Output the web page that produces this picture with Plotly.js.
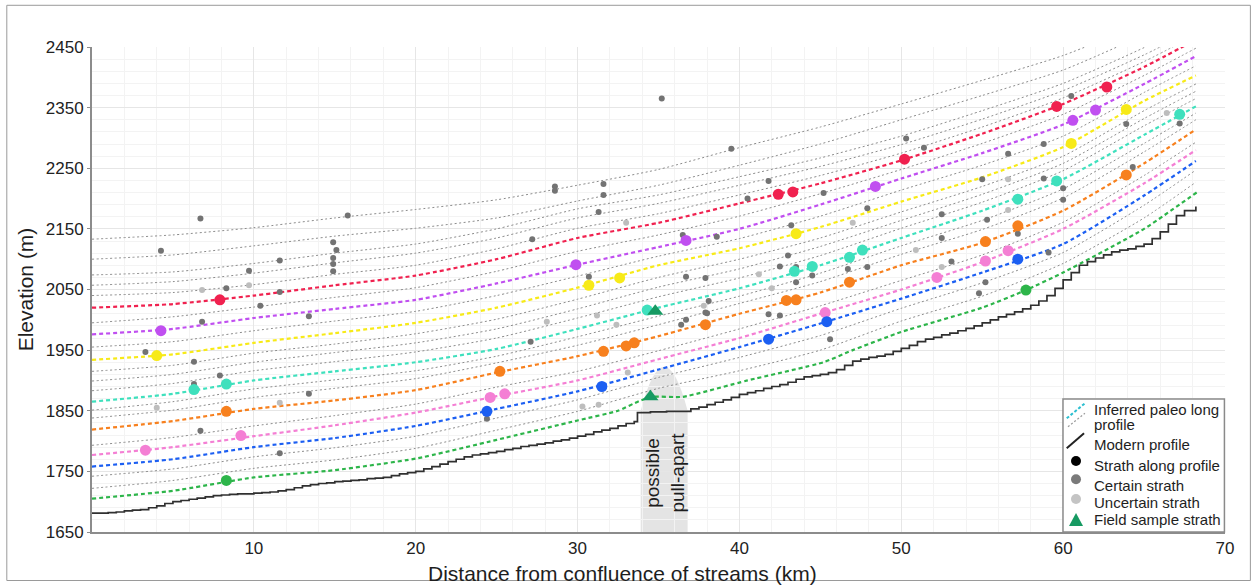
<!DOCTYPE html>
<html>
<head>
<meta charset="utf-8">
<script src="https://cdn.plot.ly/plotly-3.0.1.min.js"></script>
<style>
  html, body { margin: 0; padding: 0; background: #ffffff; }
  #chart { width: 1253px; height: 587px; }
</style>
</head>
<body>
<div id="chart"></div>
<script>
// ---------- DATA ----------
const profileX = [0, 5, 10, 15, 20, 25, 30, 35, 40, 45, 50, 55, 60, 65, 68.2];

// coloured inferred paleo long profiles (dashed)
const redProfile    = [2020, 2026, 2040, 2057, 2073, 2100, 2135, 2160, 2192, 2225, 2263, 2307, 2356, 2417, 2462];
const purpleProfile = [1976, 1985, 2003, 2018, 2033, 2060, 2091, 2120, 2150, 2190, 2233, 2275, 2322, 2389, 2435];
const yellowProfile = [1934, 1943, 1962, 1978, 1995, 2020, 2053, 2090, 2118, 2153, 2195, 2235, 2285, 2361, 2403];
const turqProfile   = [1865, 1878, 1900, 1915, 1930, 1952, 1985, 2020, 2052, 2090, 2135, 2180, 2232, 2305, 2352];
const orangeProfile = [1819, 1833, 1853, 1867, 1884, 1913, 1940, 1973, 2010, 2045, 2090, 2127, 2180, 2258, 2314];
const pinkProfile   = [1777, 1790, 1808, 1826, 1847, 1874, 1900, 1935, 1970, 2010, 2050, 2095, 2150, 2225, 2280];
const blueProfile   = [1758, 1770, 1790, 1805, 1825, 1853, 1882, 1918, 1955, 1994, 2035, 2078, 2125, 2205, 2262];
const greenProfileX = [0, 5, 10, 15, 20, 25, 30, 32.5, 33.8, 34.6, 36.5, 40.5, 45.2, 47, 50, 55, 57.7, 60, 65, 68.3];
const greenProfile  = [1705, 1718, 1740, 1752, 1771, 1802, 1834, 1850, 1866, 1873, 1873, 1900, 1930, 1950, 1980, 2020, 2049, 2078, 2150, 2211];

// grey dotted inferred paleo long profiles
const grey1  = [2133, 2140, 2152, 2168, 2182, 2198, 2222, 2248, 2284, 2318, 2356, 2395, 2436, 2490, 2530];
const grey2  = [2100, 2107, 2122, 2138, 2151, 2168, 2196, 2222, 2255, 2290, 2330, 2370, 2412, 2470, 2510];
const grey3  = [2074, 2079, 2093, 2110, 2125, 2150, 2183, 2206, 2236, 2267, 2303, 2345, 2390, 2449, 2492];
const grey4  = [2057, 2063, 2077, 2094, 2110, 2135, 2168, 2192, 2222, 2253, 2289, 2331, 2378, 2437, 2480];
const grey5  = [2040, 2045, 2058, 2075, 2090, 2117, 2151, 2175, 2206, 2238, 2275, 2318, 2366, 2426, 2470];
const grey6  = [1995, 2005, 2021, 2037, 2053, 2080, 2113, 2140, 2171, 2208, 2248, 2291, 2339, 2403, 2448];
const grey7  = [1955, 1964, 1982, 1998, 2014, 2040, 2072, 2105, 2134, 2171, 2214, 2255, 2303, 2375, 2419];
const grey8  = [1915, 1925, 1945, 1960, 1977, 2001, 2034, 2070, 2100, 2135, 2178, 2220, 2270, 2345, 2389];
const grey9  = [1899, 1910, 1930, 1946, 1962, 1985, 2018, 2054, 2084, 2121, 2164, 2207, 2258, 2332, 2377];
const grey10 = [1883, 1895, 1916, 1931, 1947, 1970, 2003, 2038, 2069, 2106, 2151, 2194, 2246, 2320, 2365];
const grey11 = [1851, 1865, 1886, 1901, 1916, 1940, 1972, 2006, 2039, 2077, 2122, 2164, 2216, 2291, 2341];
const grey12 = [1838, 1851, 1872, 1887, 1903, 1929, 1958, 1992, 2027, 2063, 2108, 2149, 2201, 2277, 2330];
const grey13 = [1793, 1806, 1825, 1842, 1861, 1889, 1915, 1949, 1985, 2023, 2065, 2107, 2161, 2238, 2293];
const grey14 = [1742, 1754, 1774, 1789, 1808, 1838, 1868, 1905, 1938, 1974, 2019, 2061, 2111, 2189, 2247];
const grey15 = [1722, 1735, 1755, 1769, 1788, 1818, 1849, 1887, 1916, 1950, 1998, 2039, 2093, 2168, 2227];

// modern profile (stepped)
const modernX = [0, 0.5, 1, 1.5, 2, 2.5, 3, 3.5, 4, 4.5, 5, 5.5, 6, 6.5, 7, 7.5, 8, 8.5, 9, 9.5,
  10, 10.5, 11, 11.5, 12, 12.5, 13, 13.5, 14, 14.5, 15, 15.5, 16, 16.5, 17, 17.5, 18, 18.5, 19, 19.5,
  20, 20.5, 21, 21.5, 22, 22.5, 23, 23.5, 24, 24.5, 25, 25.5, 26, 26.5, 27, 27.5, 28, 28.5, 29, 29.5,
  30, 30.5, 31, 31.5, 32, 32.5, 33, 33.5, 33.7, 34.5, 35.5, 36.8, 37, 37.5, 38, 38.5, 39, 39.5,
  40, 40.5, 41, 41.5, 42, 42.5, 43, 43.5, 44, 44.5, 45, 45.5, 46, 46.5, 47, 47.5, 48, 48.5, 49, 49.5,
  50, 50.5, 51, 51.5, 52, 52.5, 53, 53.5, 54, 54.5, 55, 55.5, 56, 56.5, 57, 57.5, 58, 58.5, 59, 59.5,
  60, 60.5, 61, 61.5, 62, 62.5, 63, 63.5, 64, 64.5, 65, 65.5, 66, 66.5, 67, 67.5, 68.2];
const modernY = [1681, 1681, 1682, 1683, 1685, 1686, 1687, 1690, 1693, 1697, 1700, 1702, 1704, 1706, 1708, 1710, 1711, 1712, 1713, 1713,
  1714, 1715, 1716, 1718, 1720, 1723, 1726, 1728, 1730, 1731, 1733, 1734, 1735, 1736, 1738, 1739, 1740, 1743, 1746, 1748,
  1750, 1754, 1758, 1762, 1766, 1770, 1774, 1777, 1779, 1781, 1783, 1786, 1788, 1791, 1793, 1795, 1797, 1800, 1802, 1805,
  1808, 1811, 1815, 1818, 1821, 1825, 1829, 1832, 1847, 1848, 1849, 1849, 1853, 1856, 1860, 1864, 1868, 1872,
  1877, 1880, 1883, 1887, 1890, 1893, 1897, 1902, 1906, 1908, 1910, 1913, 1918, 1925, 1932, 1935, 1938, 1940, 1943, 1948,
  1953, 1958, 1964, 1968, 1971, 1975, 1978, 1982, 1986, 1990, 1995, 2000, 2005, 2009, 2013, 2018, 2024, 2031, 2040, 2052,
  2066, 2078, 2090, 2096, 2102, 2107, 2112, 2115, 2117, 2121, 2125, 2134, 2145, 2158, 2172, 2180, 2187];

// straths along profiles (coloured points)
const redStrathX    = [7.9, 42.4, 43.3, 50.2, 59.6, 62.7];
const redStrathY    = [2033, 2207, 2211, 2265, 2352, 2384];
const purpleStrathX = [4.26, 29.9, 36.7, 48.4, 60.6, 62.0];
const purpleStrathY = [1982, 2091, 2131, 2220, 2329, 2346];
const yellowStrathX = [4.0, 30.7, 32.6, 43.5, 60.5, 63.9];
const yellowStrathY = [1941, 2057, 2069, 2142, 2291, 2347];
const turqStrathX   = [6.3, 8.3, 34.3, 43.4, 44.5, 46.8, 47.6, 57.2, 59.6, 67.2];
const turqStrathY   = [1885, 1894, 2016, 2080, 2088, 2103, 2115, 2199, 2229, 2339];
const orangeStrathX = [8.3, 25.2, 31.6, 33.0, 33.5, 37.9, 42.9, 43.5, 46.8, 55.2, 57.2, 63.9];
const orangeStrathY = [1849, 1915, 1948, 1957, 1962, 1992, 2032, 2033, 2062, 2129, 2155, 2239];
const pinkStrathX   = [3.3, 9.2, 24.6, 25.5, 45.3, 52.2, 55.2, 56.6];
const pinkStrathY   = [1785, 1809, 1872, 1878, 2012, 2070, 2097, 2114];
const blueStrathX   = [24.4, 31.5, 41.8, 45.4, 57.2];
const blueStrathY   = [1849, 1890, 1968, 1997, 2100];
const greenStrathX  = [8.3, 57.7];
const greenStrathY  = [1735, 2049];

// certain straths (dark grey)
const certainX = [4.26, 6.7, 8.3, 9.7, 11.6, 11.6, 10.4, 15.8, 14.9, 15.1, 14.9, 14.9, 14.9, 13.4, 6.8, 3.3, 6.3, 7.9, 6.3, 13.4, 6.7, 11.6,
  28.6, 28.6, 31.6, 31.6, 31.3, 27.2, 30.7, 36.5, 36.7, 35.2, 27.1, 24.4, 37.9, 36.4, 36.7, 38.1, 39.5, 41.8, 40.5, 45.2, 50.3, 51.4,
  56.6, 58.8, 47.9, 43.2, 38.6, 55.0, 58.8, 52.5, 55.3, 52.5, 43.0, 42.5, 43.5, 44.5, 43.5, 37.9, 53.1, 55.2, 57.2, 59.1, 47.9, 46.7,
  54.8, 38.0, 41.8, 42.5, 45.6, 60.5, 63.9, 67.2, 60.0, 60.0, 64.3];
const certainY = [2114, 2167, 2052, 2081, 2098, 2046, 2023, 2172, 2128, 2115, 2102, 2092, 2080, 2006, 1997, 1947, 1931, 1908, 1894, 1878, 1817, 1780,
  2220, 2213, 2224, 2206, 2178, 2133, 2071, 2140, 2071, 2365, 1964, 1837, 2012, 1992, 2000, 2031, 2282, 2229, 2200, 2209, 2299, 2284,
  2274, 2290, 2184, 2156, 2137, 2232, 2233, 2174, 2165, 2135, 2106, 2088, 2087, 2073, 2062, 2069, 2096, 2062, 2142, 2111, 2087, 2084,
  2044, 2011, 2009, 2007, 1968, 2369, 2323, 2324, 2217, 2198, 2252];

// uncertain straths (light grey)
const uncertainX = [6.8, 9.7, 4.0, 11.6, 28.1, 31.2, 32.4, 33.1, 30.3, 31.3, 33.0, 47.0, 56.6, 56.6, 50.9, 41.2, 52.5, 42.0, 37.8, 66.4];
const uncertainY = [2049, 2057, 1855, 1863, 1997, 2007, 1992, 1913, 1857, 1860, 2160, 2160, 2232, 2181, 2115, 2075, 2087, 2052, 2023, 2341];

// field sample straths
const fieldX = [34.8, 34.5];
const fieldY = [2014, 1873];

// axis ticks
const xTicks = [10, 20, 30, 40, 50, 60, 70];
const yTicks = [1650, 1750, 1850, 1950, 2050, 2150, 2250, 2350, 2450];

// pull-apart zone
const pullApartX = [33.9, 36.8];

// ---------- STYLE ----------
const COL = {
  red: '#f0214f', purple: '#c04ff0', yellow: '#f7ea18', turq: '#3fe0bd',
  orange: '#f7801e', pink: '#f47fd4', blue: '#1c5ff2', green: '#2db54a',
  field: '#169a62', certain: '#737373', uncertain: '#bdbdbd', grey: '#8c8c8c', modern: '#303030'
};
const FONT = 'Liberation Sans, Arial, sans-serif';

const traces = [];
const greys = [grey1, grey2, grey3, grey4, grey5, grey6, grey7, grey8, grey9, grey10, grey11, grey12, grey13, grey14, grey15];
greys.forEach(g => traces.push({
  x: profileX, y: g, mode: 'lines', type: 'scatter', hoverinfo: 'skip',
  line: { color: COL.grey, width: 1, dash: '2px,2.5px', shape: 'spline', smoothing: 0.6 }
}));

const coloured = [
  [redProfile, COL.red], [purpleProfile, COL.purple], [yellowProfile, COL.yellow], [turqProfile, COL.turq],
  [orangeProfile, COL.orange], [pinkProfile, COL.pink], [blueProfile, COL.blue]
];
coloured.forEach(([y, c]) => traces.push({
  x: profileX, y: y, mode: 'lines', type: 'scatter', hoverinfo: 'skip',
  line: { color: c, width: 2.2, dash: '4px,3px', shape: 'spline', smoothing: 0.6 }
}));
traces.push({
  x: greenProfileX, y: greenProfile, mode: 'lines', type: 'scatter', hoverinfo: 'skip',
  line: { color: COL.green, width: 2.2, dash: '4px,3px', shape: 'spline', smoothing: 0.5 }
});

traces.push({
  x: modernX, y: modernY, mode: 'lines', type: 'scatter', hoverinfo: 'skip',
  line: { color: COL.modern, width: 1.7, shape: 'hv' }
});

traces.push({ x: uncertainX, y: uncertainY, mode: 'markers', type: 'scatter', marker: { color: COL.uncertain, size: 6 } });
traces.push({ x: certainX, y: certainY, mode: 'markers', type: 'scatter', marker: { color: COL.certain, size: 6 } });

const strathSets = [
  [redStrathX, redStrathY, COL.red], [purpleStrathX, purpleStrathY, COL.purple], [yellowStrathX, yellowStrathY, COL.yellow],
  [turqStrathX, turqStrathY, COL.turq], [orangeStrathX, orangeStrathY, COL.orange], [pinkStrathX, pinkStrathY, COL.pink],
  [blueStrathX, blueStrathY, COL.blue], [greenStrathX, greenStrathY, COL.green]
];
strathSets.forEach(([x, y, c]) => traces.push({
  x: x, y: y, mode: 'markers', type: 'scatter', marker: { color: c, size: 11 }
}));
traces.push({ x: fieldX, y: fieldY, mode: 'markers', type: 'scatter',
  marker: { color: COL.field, size: 14, symbol: 'triangle-up' } });

// ---------- LEGEND (drawn) ----------
const LX = 0.8685; // symbol centre
const shapes = [
  // pull-apart shading
  { type: 'path', xref: 'x', yref: 'y', layer: 'below', fillcolor: '#e4e4e4', line: { width: 0 },
    path: `M ${pullApartX[0]},1650 L ${pullApartX[0]},1850 Q ${(pullApartX[0] + pullApartX[1]) / 2},1995 ${pullApartX[1]},1850 L ${pullApartX[1]},1650 Z` },
  // outer frame
  { type: 'rect', xref: 'paper', yref: 'paper', x0: -0.0752, x1: 1.0224, y0: -0.1, y1: 1.086,
    line: { color: '#9a9a9a', width: 1 }, fillcolor: 'rgba(0,0,0,0)' },
  // legend box
  { type: 'rect', xref: 'paper', yref: 'paper', x0: 0.857, x1: 0.9995, y0: 0.0, y1: 0.274,
    line: { color: '#8a8a8a', width: 1.5 }, fillcolor: '#ffffff' },
  { type: 'line', xref: 'paper', yref: 'paper', x0: 0.8603, y0: 0.2344, x1: 0.8764, y1: 0.2654,
    line: { color: '#2bbfd0', width: 2, dash: '3px,2px' } },
  { type: 'line', xref: 'paper', yref: 'paper', x0: 0.8614, y0: 0.2171, x1: 0.8764, y1: 0.2447,
    line: { color: '#9a9a9a', width: 1.2, dash: '2px,2px' } },
  { type: 'line', xref: 'paper', yref: 'paper', x0: 0.8603, y0: 0.1726, x1: 0.8756, y1: 0.2035,
    line: { color: '#222222', width: 2 } },
  { type: 'circle', xref: 'paper', yref: 'paper', xsizemode: 'pixel', ysizemode: 'pixel', xanchor: LX, yanchor: 0.1464,
    x0: -5, x1: 5, y0: -5, y1: 5, fillcolor: '#000000', line: { width: 0 } },
  { type: 'circle', xref: 'paper', yref: 'paper', xsizemode: 'pixel', ysizemode: 'pixel', xanchor: LX, yanchor: 0.1087,
    x0: -5, x1: 5, y0: -5, y1: 5, fillcolor: '#7a7a7a', line: { width: 0 } },
  { type: 'circle', xref: 'paper', yref: 'paper', xsizemode: 'pixel', ysizemode: 'pixel', xanchor: LX, yanchor: 0.068,
    x0: -5, x1: 5, y0: -5, y1: 5, fillcolor: '#c4c4c4', line: { width: 0 } },
  { type: 'path', xref: 'paper', yref: 'paper', xsizemode: 'pixel', ysizemode: 'pixel', xanchor: LX, yanchor: 0.0247,
    path: 'M -7,-6 L 7,-6 L 0,7 Z', fillcolor: COL.field, line: { width: 0 } }
];

const legFont = { family: FONT, size: 15, color: '#1e1e1e' };
const TX = 0.8824;
const legendTexts = [
  ['Inferred paleo long', 0.2530], ['profile', 0.2221], ['Modern profile', 0.1808], ['Strath along profile', 0.1381],
  ['Certain strath', 0.0969], ['Uncertain strath', 0.0604], ['Field sample strath', 0.0262]
];
const annotations = legendTexts.map(([t, y]) => ({
  text: t, xref: 'paper', yref: 'paper', x: TX, y: y, xanchor: 'left', yanchor: 'middle',
  showarrow: false, font: legFont
}));
annotations.push({
  text: 'possible<br>pull-apart', xref: 'x', yref: 'y', x: (pullApartX[0] + pullApartX[1]) / 2 + 0.05, y: 1748,
  textangle: -90, showarrow: false, xanchor: 'center', yanchor: 'middle',
  font: { family: FONT, size: 19, color: '#1e1e1e' }
});
// x-axis title (placed as in the original figure)
annotations.push({
  text: 'Distance from confluence of streams (km)', xref: 'paper', yref: 'paper', x: 0.468, y: -0.086,
  xanchor: 'center', yanchor: 'middle', showarrow: false, font: { family: FONT, size: 21, color: '#1e1e1e' }
});

const layout = {
  width: 1253, height: 587,
  margin: { l: 92, r: 28, t: 47, b: 55 },
  paper_bgcolor: '#ffffff', plot_bgcolor: '#ffffff',
  showlegend: false,
  font: { family: FONT, color: '#1e1e1e' },
  xaxis: {
    range: [0, 70], tickmode: 'array', tickvals: xTicks, ticktext: xTicks.map(String),
    showgrid: true, gridcolor: '#e6e6e6', gridwidth: 1,
    minor: { tickmode: 'linear', tick0: 0, dtick: 2, showgrid: true, gridcolor: '#f3f3f3', gridwidth: 1, ticks: '' },
    showline: true, linecolor: '#8c8c8c', linewidth: 2, zeroline: false,
    ticks: '', tickfont: { size: 17, color: '#222222' }
  },
  yaxis: {
    range: [1650, 2450], tickmode: 'array', tickvals: yTicks, ticktext: yTicks.map(String),
    showgrid: true, gridcolor: '#e6e6e6', gridwidth: 1,
    minor: { tickmode: 'linear', tick0: 1650, dtick: 20, showgrid: true, gridcolor: '#f3f3f3', gridwidth: 1, ticks: '' },
    showline: true, linecolor: '#8c8c8c', linewidth: 2, zeroline: false,
    ticks: 'outside', ticklen: 3, tickcolor: '#8c8c8c', tickfont: { size: 17, color: '#222222' },
    title: { text: 'Elevation (m)', font: { size: 21, color: '#1e1e1e' }, standoff: 6 }
  },
  shapes: shapes,
  annotations: annotations
};

Plotly.newPlot('chart', traces, layout, { staticPlot: true, displayModeBar: false });
</script>
</body>
</html>
